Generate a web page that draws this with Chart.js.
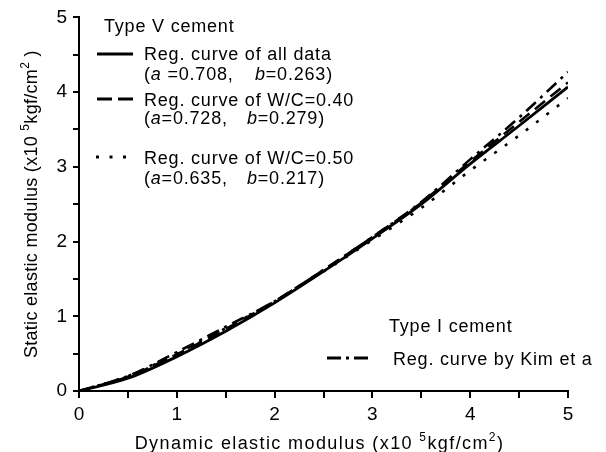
<!DOCTYPE html>
<html>
<head>
<meta charset="utf-8">
<script src="https://cdn.jsdelivr.net/npm/chart.js@4"></script>
<style>
  html, body { margin: 0; padding: 0; background: #fff; }
  #wrap { width: 606px; height: 452px; }
</style>
</head>
<body>
<div id="wrap"><canvas id="modulusChart" width="606" height="452"></canvas></div>
<script>
// Values (x10^5 kgf/cm2)
const dynamicModulus = [0, 0.5, 1, 1.5, 2, 2.5, 3, 3.5, 4, 4.5, 5];
const regAllData = [0, 0.17, 0.46, 0.80, 1.18, 1.60, 2.04, 2.50, 3.04, 3.55, 4.07];
const regWC040 = [0, 0.19, 0.49, 0.83, 1.20, 1.62, 2.06, 2.52, 3.07, 3.60, 4.13];
const regWC050 = [0, 0.20, 0.50, 0.84, 1.20, 1.60, 2.02, 2.45, 2.95, 3.42, 3.92];
const regKim = [0, 0.20, 0.52, 0.86, 1.20, 1.62, 2.06, 2.53, 3.10, 3.66, 4.27];
const tickLabels = ['0', '1', '2', '3', '4', '5'];

const FONT = '"Liberation Sans", Arial, sans-serif';

function toPoints(ys) {
    return ys.map((y, i) => ({ x: dynamicModulus[i], y: y }));
}

function intTick(value) {
    // only whole numbers get a label, half steps are minor ticks
    return Number.isInteger(value) ? tickLabels[value] : '';
}

function partFont(p, size) {
    return (p.italic ? 'italic ' : '') + (p.sup ? Math.round(size * 0.68) : size) + 'px ' + FONT;
}

function richWidth(ctx, parts, size) {
    let w = 0;
    parts.forEach(function(p) {
        ctx.font = partFont(p, size);
        w += ctx.measureText(p.t).width;
    });
    return w;
}

// draws a line of text made of normal / italic / superscript pieces, y = baseline
function drawRich(ctx, parts, x, y, size) {
    parts.forEach(function(p) {
        if (p.at !== undefined) x = p.at;
        ctx.font = partFont(p, size);
        ctx.fillText(p.t, x, p.sup ? y - size * 0.42 : y);
        x += ctx.measureText(p.t).width;
    });
}

function sample(ctx, x1, x2, y, dash, width) {
    ctx.save();
    ctx.beginPath();
    ctx.setLineDash(dash);
    ctx.lineWidth = width;
    ctx.moveTo(x1, y);
    ctx.lineTo(x2, y);
    ctx.stroke();
    ctx.restore();
}

const xTitle = [{t: 'Dynamic elastic modulus (x10 '}, {t: '5', sup: true}, {t: 'kgf/cm'}, {t: '2', sup: true}, {t: ')'}];
const yTitle = [{t: 'Static elastic modulus (x10 '}, {t: '5', sup: true}, {t: 'kgf/cm'}, {t: '2', sup: true}, {t: ' )'}];

const paperPlugin = {
    id: 'paperText',
    afterDraw: function(chart) {
        const ctx = chart.ctx;
        const area = chart.chartArea;
        const ds = chart.data.datasets;
        const S = 18;
        ctx.save();
        ctx.fillStyle = '#000';
        ctx.strokeStyle = '#000';
        ctx.textBaseline = 'alphabetic';
        ctx.textAlign = 'left';

        // axis titles
        ctx.letterSpacing = '1.4px';
        let w = richWidth(ctx, xTitle, S);
        drawRich(ctx, xTitle, (area.left + area.right) / 2 - w / 2 - 4, 449, S);

        ctx.letterSpacing = '0.3px';
        w = richWidth(ctx, yTitle, S);
        ctx.save();
        ctx.translate(37, (area.top + area.bottom) / 2);
        ctx.rotate(-Math.PI / 2);
        drawRich(ctx, yTitle, -w / 2, 0, S);
        ctx.restore();

        // legend, Type V cement
        ctx.letterSpacing = '0.8px';
        drawRich(ctx, [{t: 'Type V cement'}], 104, 31.5, S);

        sample(ctx, 97, 133, 54, [], 3);
        drawRich(ctx, [{t: ds[0].label}], 144, 59.5, S);
        drawRich(ctx, [{t: '('}, {t: 'a', italic: true}, {t: ' =0.708,'}, {t: 'b', italic: true, at: 255}, {t: '=0.263)'}], 144, 79.5, S);

        sample(ctx, 97, 133, 99, [15, 6], 3);
        drawRich(ctx, [{t: ds[1].label}], 144, 105.5, S);
        drawRich(ctx, [{t: '('}, {t: 'a', italic: true}, {t: '=0.728,'}, {t: 'b', italic: true, at: 247}, {t: '=0.279)'}], 144, 123.5, S);

        sample(ctx, 96, 126, 157, [3, 10.5], 3);
        drawRich(ctx, [{t: ds[2].label}], 144, 163.5, S);
        drawRich(ctx, [{t: '('}, {t: 'a', italic: true}, {t: '=0.635,'}, {t: 'b', italic: true, at: 247}, {t: '=0.217)'}], 144, 183.5, S);

        // legend, Type I cement
        drawRich(ctx, [{t: 'Type I cement'}], 389, 331.5, S);
        sample(ctx, 327, 371, 358, [14, 5, 3, 5], 3);
        drawRich(ctx, [{t: ds[3].label}], 393, 364.5, S);
        ctx.restore();
    }
};

const lineStyle = {
    borderColor: '#000',
    backgroundColor: '#000',
    pointRadius: 0,
    fill: false,
    cubicInterpolationMode: 'monotone'
};

new Chart(document.getElementById('modulusChart'), {
    type: 'line',
    data: {
        datasets: [
            Object.assign({ label: 'Reg. curve of all data', data: toPoints(regAllData), borderWidth: 2.8 }, lineStyle),
            Object.assign({ label: 'Reg. curve of W/C=0.40', data: toPoints(regWC040), borderWidth: 2.6, borderDash: [13, 7] }, lineStyle),
            Object.assign({ label: 'Reg. curve of W/C=0.50', data: toPoints(regWC050), borderWidth: 2.6, borderDash: [3, 10] }, lineStyle),
            Object.assign({ label: 'Reg. curve by Kim et a', data: toPoints(regKim), borderWidth: 2.6, borderDash: [13, 6, 3, 6] }, lineStyle)
        ]
    },
    options: {
        responsive: false,
        animation: false,
        layout: { padding: { left: 0, right: 38, top: 16, bottom: 0 } },
        plugins: {
            legend: { display: false },
            tooltip: { enabled: false }
        },
        scales: {
            x: {
                type: 'linear',
                min: 0,
                max: 5,
                afterFit: function(scale) { scale.height = 61; },
                ticks: {
                    stepSize: 0.5,
                    autoSkip: false,
                    maxRotation: 0,
                    color: '#000',
                    padding: 5,
                    font: { family: FONT, size: 19 },
                    callback: intTick
                },
                grid: { drawOnChartArea: false, drawTicks: true, tickLength: 7, color: '#000', lineWidth: 2 },
                border: { color: '#000', width: 2 },
                title: { display: false }
            },
            y: {
                type: 'linear',
                min: 0,
                max: 5,
                afterFit: function(scale) { scale.width = 79; },
                ticks: {
                    stepSize: 0.5,
                    autoSkip: false,
                    color: '#000',
                    padding: 6,
                    font: { family: FONT, size: 19 },
                    callback: intTick
                },
                grid: { drawOnChartArea: false, drawTicks: true, tickLength: 6, color: '#000', lineWidth: 2 },
                border: { color: '#000', width: 2 },
                title: { display: false }
            }
        }
    },
    plugins: [paperPlugin]
});
</script>
</body>
</html>
